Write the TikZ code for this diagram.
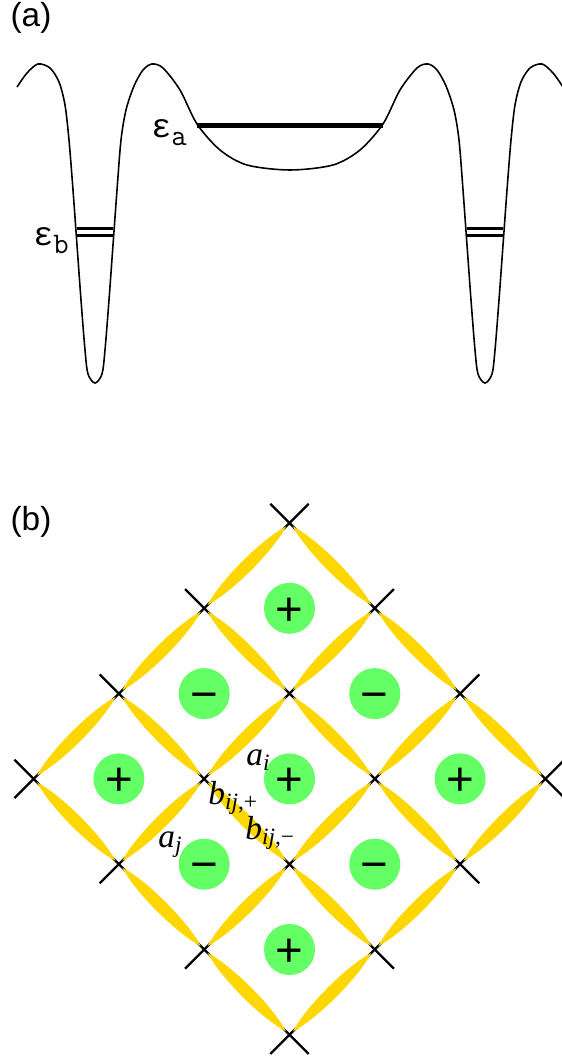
\documentclass[tikz,border=0pt]{standalone}
\usepackage{fontspec}
\setmainfont{Liberation Serif}
\setsansfont{Liberation Sans}
\newfontfamily\epsfont{Liberation Mono}
\usetikzlibrary{calc,shapes.misc}
\definecolor{lensyellow}{RGB}{255,215,0}
\definecolor{plaqgreen}{RGB}{100,255,100}
% yellow bond between two lattice sites
\newcommand{\lens}[2]{\fill[lensyellow] ($(#1)!0.04!(#2)$) to[bend left=18,looseness=0.62] ($(#1)!0.96!(#2)$) to[bend left=18,looseness=0.62] ($(#1)!0.04!(#2)$);}
% energy level label
\newcommand{\elev}[1]{{\epsfont\fontsize{19}{19}\selectfont ε\ttfamily\fontsize{17}{17}\selectfont\raisebox{-4pt}{#1}}}
\begin{document}
\begin{tikzpicture}[x=0.02cm,y=-0.02cm,
  site/.style={cross out,draw,line width=1.3pt,minimum size=0.72cm,inner sep=0pt},
  plaq/.style={circle,fill=plaqgreen,minimum size=1.02cm,inner sep=0pt,
    font=\sffamily\fontsize{27}{27}\selectfont,text height=19.1pt,text depth=0pt},
  lbl/.style={anchor=base west,inner sep=0pt,font=\fontsize{19}{19}\selectfont},
  panel/.style={font=\sffamily\fontsize{19}{19}\selectfont}]
\useasboundingbox (0,0) rectangle (561,1057);

% (a) potential
\node[panel] (la) at (31,18) {(a)};
\draw[line width=0.9pt] plot[smooth,tension=0.5] coordinates {
  (17,87) (27,73) (38,64) (50,68) (59,82) (65,105) (69,140) (73,190) (77,245)
  (81,300) (85,350) (88,374) (95,383) (102,374) (105,350) (109,300) (113,245)
  (117,190) (121,140) (126,110) (134,86) (143,70) (152,64) (163,68) (180,90)
  (197,124) (220,150) (247,165) (290,170) (333,165) (360,150) (383,124) (400,90)
  (417,68) (428,64) (437,70) (446,86) (454,110) (459,140) (463,190) (467,245)
  (471,300) (475,350) (478,374) (485,383) (492,374) (495,350) (499,300) (503,245)
  (507,190) (511,140) (515,105) (521,82) (530,68) (542,64) (553,73) (563,87)};
\draw[line width=2.8pt] (197,125.5) -- (383,125.5);
\draw[line width=2.1pt] (77,228.5) -- (113,228.5);
\draw[line width=2.1pt] (77,235.5) -- (113,235.5);
\draw[line width=2.1pt] (467,228.5) -- (503,228.5);
\draw[line width=2.1pt] (467,235.5) -- (503,235.5);
\node[lbl] (ea) at (151,138) {\elev{a}};
\node[lbl] (eb) at (33,246) {\elev{b}};

% (b) lattice
\node[panel] (lb) at (31,522) {(b)};

\node[site] (v00) at (289.5,523) {};
\node[site] (v10) at (374.8,608.3) {};
\node[site] (v01) at (204.2,608.3) {};
\node[site] (v20) at (460.1,693.6) {};
\node[site] (v11) at (289.5,693.6) {};
\node[site] (v02) at (118.9,693.6) {};
\node[site] (v30) at (545.4,778.9) {};
\node[site] (v21) at (374.8,778.9) {};
\node[site] (v12) at (204.2,778.9) {};
\node[site] (v03) at (33.6,778.9) {};
\node[site] (v31) at (460.1,864.2) {};
\node[site] (v22) at (289.5,864.2) {};
\node[site] (v13) at (118.9,864.2) {};
\node[site] (v32) at (374.8,949.5) {};
\node[site] (v23) at (204.2,949.5) {};
\node[site] (v33) at (289.5,1034.8) {};

\lens{v00}{v10} \lens{v10}{v20} \lens{v20}{v30}
\lens{v01}{v11} \lens{v11}{v21} \lens{v21}{v31}
\lens{v02}{v12} \lens{v12}{v22} \lens{v22}{v32}
\lens{v03}{v13} \lens{v13}{v23} \lens{v23}{v33}
\lens{v00}{v01} \lens{v01}{v02} \lens{v02}{v03}
\lens{v10}{v11} \lens{v11}{v12} \lens{v12}{v13}
\lens{v20}{v21} \lens{v21}{v22} \lens{v22}{v23}
\lens{v30}{v31} \lens{v31}{v32} \lens{v32}{v33}

\node[plaq] (p00) at (289.5,608.3) {+};
\node[plaq] (p10) at (374.8,693.6) {−};
\node[plaq] (p01) at (204.2,693.6) {−};
\node[plaq] (p20) at (460.1,778.9) {+};
\node[plaq] (p11) at (289.5,778.9) {+};
\node[plaq] (p02) at (118.9,778.9) {+};
\node[plaq] (p21) at (374.8,864.2) {−};
\node[plaq] (p12) at (204.2,864.2) {−};
\node[plaq] (p22) at (289.5,949.5) {+};

\node[lbl] (ai) at (246,765) {\textit{a}\textsubscript{\textit{i}}};
\node[lbl] (aj) at (158,847) {\textit{a}\textsubscript{\textit{j}}};
\node[lbl] (bp) at (208,804) {\textit{b}\textsubscript{\textit{ij},+}};
\node[lbl] (bm) at (245,839) {\textit{b}\textsubscript{\textit{ij},−}};
\end{tikzpicture}
\end{document}
